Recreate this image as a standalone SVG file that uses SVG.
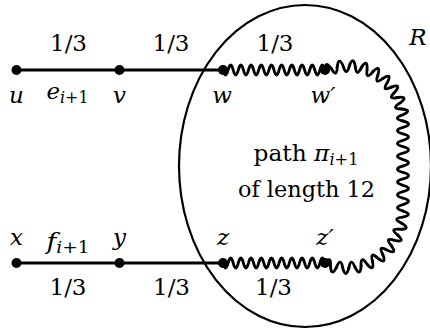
<svg xmlns="http://www.w3.org/2000/svg" width="430" height="330" viewBox="0 0 430 330">
<style>
text{font-family:"DejaVu Serif","Liberation Serif",serif;font-size:23px;fill:#000}
.m{font-style:italic}
.s{font-size:16px}
.edge{stroke:#000;stroke-width:3;fill:none}
.wave{stroke:#000;stroke-width:2.9;fill:none;stroke-linejoin:round;stroke-linecap:round}
.dot{fill:#000}
.region{fill:none;stroke:#000;stroke-width:2.2}
</style>
<defs>
<path id="wt" d="M55,0 Q65.899,3.646 54.664,6.067 Q43.397,7.262 53.661,12.060"/>
<path id="wb" d="M57,0 Q67.900,3.691 56.664,6.178 Q45.391,7.460 55.661,12.283"/>
</defs>
<g id="region-R">
<ellipse class="region" cx="305" cy="166" rx="126" ry="161"/>
<text class="m" x="418" y="45" text-anchor="middle">R</text>
<text x="306" y="161" text-anchor="middle" textLength="105" lengthAdjust="spacingAndGlyphs">path <tspan class="m">π</tspan><tspan class="s m" dy="4">i</tspan><tspan class="s">+1</tspan></text>
<text x="306.5" y="197" text-anchor="middle" textLength="137" lengthAdjust="spacingAndGlyphs">of length 12</text>
</g>
<g id="connectors">
<line class="edge" x1="16.5" y1="70" x2="223" y2="70"/>
<line class="edge" x1="16.5" y1="263" x2="223" y2="263"/>
<path class="wave" d="M223,70 q2.55,10 5.1,0 t5.1,0 t5.1,0 t5.1,0 t5.1,0 t5.1,0 t5.1,0 t5.1,0 t5.1,0 t5.1,0 t5.1,0 t5.1,0 t5.1,0 t5.1,0 t5.1,0 t5.1,0 t5.1,0 t5.1,0 t5.1,0 t5.1,0"/>
<path class="wave" d="M223,263 q2.55,10 5.1,0 t5.1,0 t5.1,0 t5.1,0 t5.1,0 t5.1,0 t5.1,0 t5.1,0 t5.1,0 t5.1,0 t5.1,0 t5.1,0 t5.1,0 t5.1,0 t5.1,0 t5.1,0 t5.1,0 t5.1,0 t5.1,0 t5.1,0"/>
<g id="path-pi" class="wave">
<use href="#wt" transform="translate(348,121) rotate(-114)"/>
<use href="#wt" transform="translate(348,121) rotate(-101.333)"/>
<use href="#wt" transform="translate(348,121) rotate(-88.667)"/>
<use href="#wt" transform="translate(348,121) rotate(-76)"/>
<use href="#wt" transform="translate(348,121) rotate(-63.333)"/>
<use href="#wt" transform="translate(348,121) rotate(-50.667)"/>
<use href="#wt" transform="translate(348,121) rotate(-38)"/>
<use href="#wt" transform="translate(348,121) rotate(-25.333)"/>
<use href="#wt" transform="translate(348,121) rotate(-12.667)"/>
<path d="M403,121 q11,3.2143 0,6.4286 t0,6.4286 t0,6.4286 t0,6.4286 t0,6.4286 t0,6.4286 t0,6.4286 t0,6.4286 t0,6.4286 t0,6.4286 t0,6.4286 t0,6.4286 t0,6.4286 t0,6.4286"/>
<use href="#wb" transform="translate(346,211) rotate(0)"/>
<use href="#wb" transform="translate(346,211) rotate(12.444)"/>
<use href="#wb" transform="translate(346,211) rotate(24.889)"/>
<use href="#wb" transform="translate(346,211) rotate(37.333)"/>
<use href="#wb" transform="translate(346,211) rotate(49.778)"/>
<use href="#wb" transform="translate(346,211) rotate(62.222)"/>
<use href="#wb" transform="translate(346,211) rotate(74.667)"/>
<use href="#wb" transform="translate(346,211) rotate(87.111)"/>
<use href="#wb" transform="translate(346,211) rotate(99.556)"/>
</g>
<text x="68.5" y="51" text-anchor="middle" textLength="37" lengthAdjust="spacingAndGlyphs">1/3</text>
<text x="171" y="51" text-anchor="middle" textLength="37" lengthAdjust="spacingAndGlyphs">1/3</text>
<text x="275" y="51" text-anchor="middle" textLength="37" lengthAdjust="spacingAndGlyphs">1/3</text>
<text x="68" y="295" text-anchor="middle" textLength="37" lengthAdjust="spacingAndGlyphs">1/3</text>
<text x="171.5" y="295" text-anchor="middle" textLength="37" lengthAdjust="spacingAndGlyphs">1/3</text>
<text x="273.5" y="295" text-anchor="middle" textLength="37" lengthAdjust="spacingAndGlyphs">1/3</text>
<text x="67.5" y="99" text-anchor="middle" textLength="42" lengthAdjust="spacingAndGlyphs"><tspan class="m">e</tspan><tspan class="s m" dy="4">i</tspan><tspan class="s">+1</tspan></text>
<text x="68" y="249" text-anchor="middle" textLength="43" lengthAdjust="spacingAndGlyphs"><tspan class="m">f</tspan><tspan class="s m" dy="4">i</tspan><tspan class="s">+1</tspan></text>
</g>
<g id="node-u"><circle class="dot" cx="16.5" cy="70" r="5"/><text class="m" x="16.5" y="103" text-anchor="middle">u</text></g>
<g id="node-v"><circle class="dot" cx="119.5" cy="70" r="5"/><text class="m" x="119.5" y="103" text-anchor="middle">v</text></g>
<g id="node-w"><circle class="dot" cx="223" cy="70" r="5"/><text class="m" x="222" y="103" text-anchor="middle">w</text></g>
<g id="node-w-prime"><circle class="dot" cx="325" cy="70" r="5"/><text class="m" x="323" y="103" text-anchor="middle">w′</text></g>
<g id="node-x"><circle class="dot" cx="16.5" cy="263" r="5"/><text class="m" x="16.5" y="245" text-anchor="middle">x</text></g>
<g id="node-y"><circle class="dot" cx="119.5" cy="263" r="5"/><text class="m" x="119.5" y="245" text-anchor="middle">y</text></g>
<g id="node-z"><circle class="dot" cx="223" cy="263" r="5"/><text class="m" x="223" y="245" text-anchor="middle">z</text></g>
<g id="node-z-prime"><circle class="dot" cx="325" cy="263" r="5"/><text class="m" x="325" y="245" text-anchor="middle">z′</text></g>
</svg>
